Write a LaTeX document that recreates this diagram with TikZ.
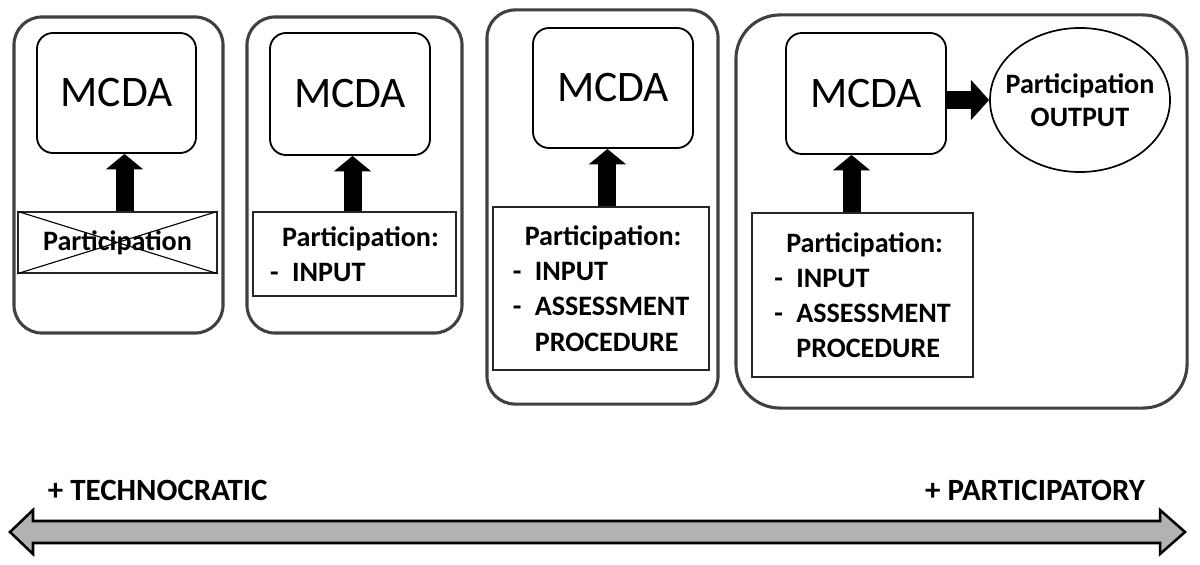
\documentclass[tikz,border=0pt]{standalone}
\usepackage{fontspec}
\setmainfont{Carlito}
\usetikzlibrary{arrows.meta,shapes.geometric}
\newcommand{\lstitem}[1]{\makebox[0.55cm][l]{-}#1}
\newcommand{\lstcont}[1]{\hspace*{0.55cm}#1}
\begin{document}
\begin{tikzpicture}[x=0.025cm,y=-0.025cm,
	panel/.style={draw=black!75,line width=2.2pt,rounded corners=0.7cm,inner sep=0,outer sep=0},
	mcda/.style={draw,line width=1.3pt,rounded corners=0.4cm,minimum width=4cm,minimum height=3cm,inner sep=0,font=\fontsize{31}{36}\selectfont},
	part/.style={draw=black!85,line width=1pt,inner sep=0,align=left,font=\fontsize{20}{25}\selectfont\bfseries},
	up/.style={-{Triangle[length=11pt,width=26pt]},line width=12.8pt},
	lbl/.style={font=\fontsize{22}{25}\selectfont\bfseries}]
	\useasboundingbox (0,0) rectangle (1200,564);
	% panels
	\node[panel,minimum width=5.225cm,minimum height=7.9cm] (o1) at (118.5,175) {};
	\node[panel,minimum width=5.375cm,minimum height=7.9cm] (o2) at (354.5,175) {};
	\node[panel,minimum width=5.775cm,minimum height=9.85cm] (o3) at (602.5,207) {};
	\node[panel,rounded corners=1.1cm,minimum width=11.275cm,minimum height=9.825cm] (o4) at (961.5,211.5) {};
	% MCDA
	\node[mcda,minimum width=3.975cm] (m1) at (116.5,93) {MCDA};
	\node[mcda,minimum height=3.05cm] (m2) at (350,94) {MCDA};
	\node[mcda] (m3) at (613,88) {MCDA};
	\node[mcda,minimum height=3.025cm] (m4) at (866,93.5) {MCDA};
	\node[ellipse,draw,line width=1.2pt,minimum width=4.5cm,minimum height=3.6cm,inner xsep=-0.3cm,inner ysep=0,align=center,font=\fontsize{20}{23.4}\selectfont\bfseries] (e4) at (1080,100) {Participation\\OUTPUT};
	% participation
	\node[part,align=center,minimum width=4.975cm,minimum height=1.525cm] (p1) at (117.5,242.5) {Participation};
	\draw[line width=0.8pt] (p1.north west) -- (p1.south east) (p1.south west) -- (p1.north east);
	\node[part,minimum width=5.075cm,minimum height=2.1cm] (p2) at (354.5,254) {\hspace*{0.3cm}Participation:\\\lstitem{INPUT}};
	\node[part,minimum width=5.4cm,minimum height=4.075cm] (p3) at (601,288.5) {\hspace*{0.3cm}Participation:\\\lstitem{INPUT}\\\lstitem{ASSESSMENT}\\\lstcont{PROCEDURE}};
	\node[part,minimum width=5.525cm,minimum height=4.1cm] (p4) at (862.5,295) {\hspace*{0.3cm}Participation:\\\lstitem{INPUT}\\\lstitem{ASSESSMENT}\\\lstcont{PROCEDURE}};
	\draw[up] ([xshift=0.175cm]p1.north) -- ([xshift=0.175cm]p1.north |- m1.south);
	\draw[up] ([xshift=-0.05cm]p2.north) -- ([xshift=-0.05cm]p2.north |- m2.south);
	\draw[up] ([xshift=0.16cm]p3.north) -- ([xshift=0.16cm]p3.north |- m3.south);
	\draw[up] ([xshift=-0.275cm]p4.north) -- ([xshift=-0.275cm]p4.north |- m4.south);
	\draw[-{Triangle[length=13pt,width=28pt]},line width=13.5pt] (m4.east |- e4.west) -- (e4.west);
	% scale
	\draw[line width=1.8pt,fill=black!30,line join=miter] (10,532) -- (33,510) -- (33,521) -- (1160,521) -- (1160,510) -- (1185,532) -- (1160,554) -- (1160,543) -- (33,543) -- (33,554) -- cycle;
	\node[lbl,anchor=west] (tech) at (43,490) {+ TECHNOCRATIC};
	\node[lbl,anchor=east] (partic) at (1150,490) {+ PARTICIPATORY};
\end{tikzpicture}
\end{document}
